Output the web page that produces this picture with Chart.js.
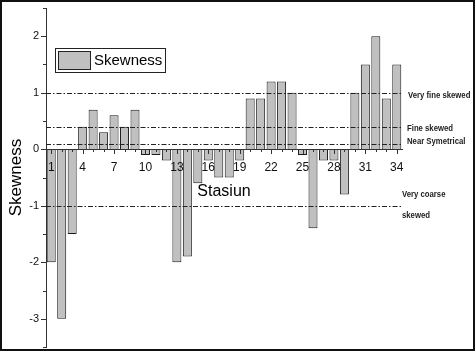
<!DOCTYPE html>
<html>
<head>
<meta charset="utf-8">
<script src="https://cdn.jsdelivr.net/npm/chart.js@4.4.1/dist/chart.umd.min.js"></script>
<style>
  html, body { margin: 0; padding: 0; background: #fff; }
  #wrap { width: 476px; height: 353px; }
</style>
</head>
<body>
<div id="wrap"><canvas id="skew-chart" width="476" height="353"></canvas></div>
<script>
// stations 1..34
var stations = [];
for (var i = 1; i <= 34; i++) stations.push(String(i));

var skewness = [
  -2.0, -3.0, -1.5, 0.4, 0.7, 0.3, 0.6, 0.4, 0.7, -0.1,
  -0.1, -0.2, -2.0, -1.9, -0.6, -0.2, -0.5, -0.5, -0.2, 0.9,
  0.9, 1.2, 1.2, 1.0, -0.1, -1.4, -0.2, -0.2, -0.8, 1.0,
  1.5, 2.0, 0.9, 1.5
];

// classification limits (dash-dot lines)
var limitValues = [1.0, 0.4, 0.1, -1.0];
var limitLabels = [
  { text: 'Very fine skewed', value: 1.0, dx: 6, dy: 3 },
  { text: 'Fine skewed', value: 0.4, dx: 5, dy: 2 },
  { text: 'Near Symetrical', value: 0.1, dx: 5, dy: -2 },
  { text: 'Very coarse', value: -1.0, dx: 0, dy: -11 },
  { text: 'skewed', value: -1.0, dx: 0, dy: 10 }
];

var yTickValues = [-3, -2, -1, 0, 1, 2];

var fontFam = "'Liberation Sans', Arial, sans-serif";

var extras = {
  id: 'extras',
  afterDatasetsDraw: function (chart) {
    var c = chart.ctx, x = chart.scales.x, y = chart.scales.y, a = chart.chartArea;
    c.save();

    // dash-dot reference lines
    c.strokeStyle = '#222';
    c.lineWidth = 1;
    c.setLineDash([5, 2, 1.5, 2]);
    limitValues.forEach(function (v) {
      var py = Math.round(y.getPixelForValue(v)) + 0.5;
      c.beginPath();
      c.moveTo(a.left, py);
      c.lineTo(a.right, py);
      c.stroke();
    });
    c.setLineDash([]);

    // y axis ticks (major on integers, minor on halves)
    c.strokeStyle = '#333';
    for (var v = y.min; v <= y.max + 0.001; v += 0.5) {
      var py = Math.round(y.getPixelForValue(v)) + 0.5;
      var len = Math.abs(v - Math.round(v)) < 0.01 ? 5 : 3;
      c.beginPath();
      c.moveTo(a.left - len, py);
      c.lineTo(a.left, py);
      c.stroke();
    }

    // x axis ticks downward from the zero line
    var zy = Math.round(y.getPixelForValue(0));
    stations.forEach(function (s, idx) {
      var px = Math.round(x.getPixelForValue(idx)) + 0.5;
      var len = idx % 3 === 0 ? 5 : 3;
      c.beginPath();
      c.moveTo(px, zy);
      c.lineTo(px, zy + len);
      c.stroke();
    });

    // x axis title
    c.fillStyle = '#000';
    c.font = '16px ' + fontFam;
    c.textAlign = 'center';
    c.textBaseline = 'middle';
    c.fillText('Stasiun', (a.left + a.right) / 2, 192);

    // category labels at the right (condensed)
    c.fillStyle = '#222';
    c.font = 'bold 9px ' + fontFam;
    c.textAlign = 'left';
    limitLabels.forEach(function (l) {
      c.save();
      c.translate(a.right + l.dx, y.getPixelForValue(l.value) + l.dy);
      c.scale(0.86, 1);
      c.fillText(l.text, 0, 0);
      c.restore();
    });

    // legend box
    var ds = chart.data.datasets[0];
    c.strokeStyle = '#222';
    c.lineWidth = 1;
    c.strokeRect(55.5, 48.5, 110, 24);
    c.fillStyle = ds.backgroundColor;
    c.fillRect(58, 51, 33, 19);
    c.strokeRect(58.5, 51.5, 32, 18);
    c.fillStyle = '#000';
    c.font = '15px ' + fontFam;
    c.fillText(ds.label, 94, 61);

    // outer frame
    c.lineWidth = 2;
    c.strokeStyle = '#111';
    c.strokeRect(1, 1, 473, 349);
    c.restore();
  }
};

var ctx = document.getElementById('skew-chart').getContext('2d');
var myChart = new Chart(ctx, {
  type: 'bar',
  data: {
    labels: stations,
    datasets: [{
      label: 'Skewness',
      data: skewness,
      backgroundColor: '#c0c0c0',
      borderColor: '#1a1a1a',
      borderWidth: 1,
      barPercentage: 0.86,
      categoryPercentage: 1.0
    }]
  },
  options: {
    responsive: false,
    animation: false,
    layout: { padding: { left: 2, right: 74, top: 8, bottom: 6 } },
    plugins: {
      legend: { display: false },
      tooltip: { enabled: false }
    },
    scales: {
      x: {
        type: 'category',
        position: { y: 0 },
        offset: true,
        afterFit: function (scale) {
          scale.height = 0;
          scale.paddingLeft = 0;
          scale.paddingRight = 0;
        },
        grid: { display: false, drawTicks: false },
        border: { display: true, color: '#333', width: 1, z: 1 },
        ticks: {
          z: 1,
          autoSkip: false,
          maxRotation: 0,
          padding: 11,
          color: '#111',
          font: { family: fontFam, size: 12 },
          callback: function (val, idx) {
            return idx % 3 === 0 ? stations[idx] : '';
          }
        }
      },
      y: {
        min: -3.5,
        max: 2.5,
        afterFit: function (scale) {
          scale.width = 44;
          scale.paddingTop = 0;
          scale.paddingBottom = 0;
        },
        afterBuildTicks: function (scale) {
          scale.ticks = yTickValues.map(function (v) { return { value: v }; });
        },
        grid: { display: false, drawTicks: false },
        border: { display: true, color: '#333', width: 1 },
        ticks: {
          padding: 7,
          color: '#111',
          font: { family: fontFam, size: 11 }
        },
        title: {
          display: true,
          text: 'Skewness',
          color: '#000',
          padding: { top: 4, bottom: 0 },
          font: { family: fontFam, size: 17 }
        }
      }
    }
  },
  plugins: [extras]
});
</script>
</body>
</html>
